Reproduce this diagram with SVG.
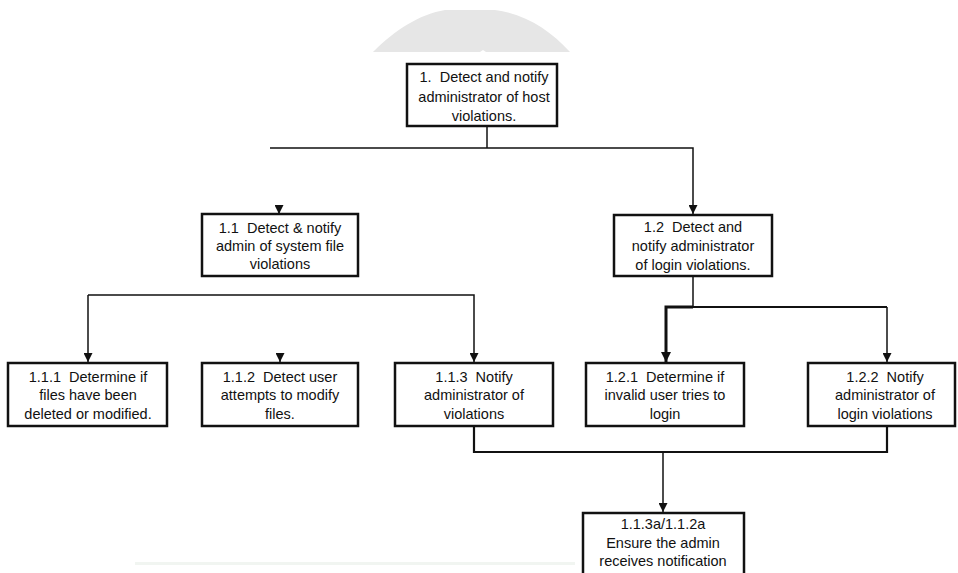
<svg xmlns="http://www.w3.org/2000/svg" width="958" height="573" viewBox="0 0 958 573">
<style>
.box{fill:#fff;stroke:#111;stroke-width:2.5}
.t{font-family:"Liberation Sans",Arial,sans-serif;font-size:14.5px;fill:#111;text-anchor:middle;white-space:pre}
.c{fill:none;stroke:#111;stroke-width:1.5}
.ct{fill:none;stroke:#111;stroke-width:3}
.cm{fill:none;stroke:#111;stroke-width:2.2}
</style>
<defs>
<marker id="ah" viewBox="0 0 10 10" refX="10" refY="5" markerWidth="9" markerHeight="9" markerUnits="userSpaceOnUse" orient="auto"><path d="M0,0 L10,5 L0,10 Z" fill="#111"/></marker>
<marker id="ahb" viewBox="0 0 10 10" refX="10" refY="5" markerWidth="10" markerHeight="10" markerUnits="userSpaceOnUse" orient="auto"><path d="M0,0 L10,5 L0,10 Z" fill="#111"/></marker>
</defs>
<rect width="958" height="573" fill="#fff"/>
<path d="M373,52 C395,30 420,14 445,10 L495,10 C525,14 550,30 570,52 L486,52 L483,50 L480,52 Z" fill="#e6e6e6"/>
<rect x="135" y="562" width="440" height="3" fill="#f1f5f1"/>
<g id="connectors">
<path class="c" d="M487,126 V148"/>
<path class="c" d="M270,148 H693 V214" marker-end="url(#ah)"/>
<path class="c" d="M279,205 V214" marker-end="url(#ah)"/>
<path class="c" d="M88,295 H474 V362" marker-end="url(#ah)"/>
<path class="c" d="M88,295 V362" marker-end="url(#ah)"/>
<path class="c" d="M280,353 V362" marker-end="url(#ah)"/>
<path class="c" d="M693,276 V307"/>
<path class="ct" d="M693,307 H666 V362" marker-end="url(#ahb)"/>
<path class="cm" d="M692,307 H887"/>
<path class="c" d="M887,307 V362" marker-end="url(#ah)"/>
<path class="cm" d="M474,426 V452 H887 V426"/>
<path class="c" d="M663,452 V512" marker-end="url(#ah)"/>
</g>
<g id="n1"><rect class="box" x="407" y="64" width="150" height="62"/>
<text class="t" x="484" y="82">1.  Detect and notify</text><text class="t" x="484" y="102">administrator of host</text><text class="t" x="484" y="121">violations.</text></g>
<g id="n1_1"><rect class="box" x="202" y="214" width="156" height="62"/>
<text class="t" x="280" y="233">1.1  Detect &amp; notify</text><text class="t" x="280" y="251">admin of system file</text><text class="t" x="280" y="269">violations</text></g>
<g id="n1_2"><rect class="box" x="614" y="215" width="158" height="61"/>
<text class="t" x="693" y="232">1.2  Detect and</text><text class="t" x="693" y="251">notify administrator</text><text class="t" x="693" y="270">of login violations.</text></g>
<g id="n1_1_1"><rect class="box" x="8" y="363" width="159" height="63"/>
<text class="t" x="88" y="382">1.1.1  Determine if</text><text class="t" x="88" y="400">files have been</text><text class="t" x="88" y="419">deleted or modified.</text></g>
<g id="n1_1_2"><rect class="box" x="202" y="363" width="156" height="63"/>
<text class="t" x="280" y="382">1.1.2  Detect user</text><text class="t" x="280" y="400">attempts to modify</text><text class="t" x="280" y="419">files.</text></g>
<g id="n1_1_3"><rect class="box" x="395" y="363" width="158" height="63"/>
<text class="t" x="474" y="382">1.1.3  Notify</text><text class="t" x="474" y="400">administrator of</text><text class="t" x="474" y="419">violations</text></g>
<g id="n1_2_1"><rect class="box" x="586" y="363" width="158" height="63"/>
<text class="t" x="665" y="382">1.2.1  Determine if</text><text class="t" x="665" y="400">invalid user tries to</text><text class="t" x="665" y="419">login</text></g>
<g id="n1_2_2"><rect class="box" x="808" y="363" width="147" height="63"/>
<text class="t" x="885" y="382">1.2.2  Notify</text><text class="t" x="885" y="400">administrator of</text><text class="t" x="885" y="419">login violations</text></g>
<g id="n_ensure"><rect class="box" x="583" y="513" width="161" height="70"/>
<text class="t" x="663" y="529">1.1.3a/1.1.2a</text><text class="t" x="663" y="548">Ensure the admin</text><text class="t" x="663" y="566">receives notification</text></g>
</svg>
